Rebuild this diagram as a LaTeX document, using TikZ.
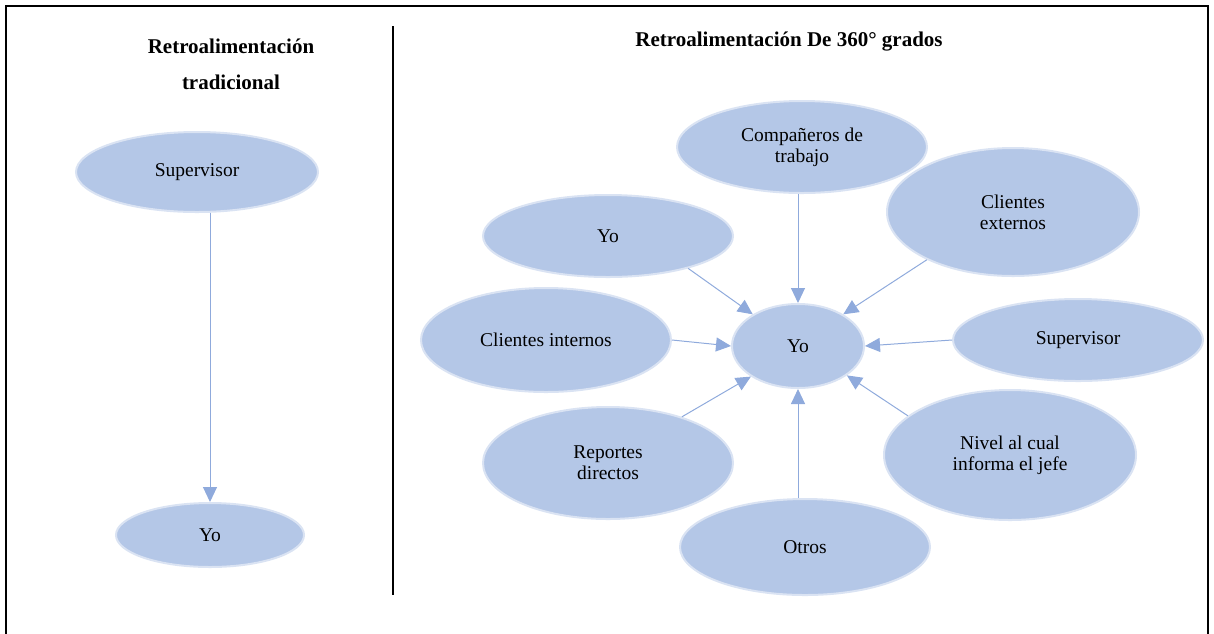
\documentclass[tikz,border=0pt]{standalone}
\usepackage{fontspec}
\setmainfont{Liberation Serif}
\usepackage{tikz}
\usetikzlibrary{shapes.geometric}
\usetikzlibrary{arrows.meta}
\definecolor{ovalfill}{HTML}{B4C7E7}
\definecolor{ovaledge}{HTML}{DAE3F3}
\definecolor{arrowblue}{HTML}{8FAADC}
\tikzset{
	main node/.style={ellipse,draw=ovaledge,line width=2pt,fill=ovalfill,inner sep=0pt,
		align=center,font=\fontsize{19.5}{21}\selectfont},
	title/.style={align=center,font=\fontsize{21}{36}\selectfont\bfseries},
	link/.style={draw=arrowblue,line width=1pt}
}

\begin{document}
\begin{tikzpicture}[x=1pt,y=-1pt,->,>={Triangle[length=15pt,width=14pt]}]
	\useasboundingbox (0,0) rectangle (1214,633);
	\draw[-,line width=2.5pt] (6,6) rectangle (1208,660);
	\draw[-,line width=1.2pt] (393,26) -- (393,595);
	\node [title] (t1) at (231,64) {Retroalimentación\\tradicional};
	\node [title] (t2) at (789,42) {Retroalimentación De 360° grados};
	\node [main node,minimum width=242,minimum height=80] (sup) at (197,172) {Supervisor};
	\node [main node,minimum width=188,minimum height=64] (yo) at (210,535) {Yo};
	\node [main node,minimum width=250,minimum height=92] (comp) at (802,147) {Compañeros de\\trabajo};
	\node [main node,minimum width=252,minimum height=128] (cext) at (1013,212) {Clientes\\externos};
	\node [main node,minimum width=250,minimum height=82] (yo2) at (608,236) {Yo};
	\node [main node,minimum width=250,minimum height=104] (cint) at (546,340) {Clientes internos};
	\node [main node,minimum width=132,minimum height=84] (mid) at (798,346) {Yo};
	\node [main node,minimum width=250,minimum height=82] (sup2) at (1078,340) {Supervisor};
	\node [main node,minimum width=250,minimum height=112] (rep) at (608,463) {Reportes\\directos};
	\node [main node,minimum width=252,minimum height=130] (niv) at (1010,455) {Nivel al cual\\informa el jefe};
	\node [main node,minimum width=250,minimum height=96] (otros) at (805,547) {Otros};
	\draw[link] (sup.south -| yo.north) -- (yo.north);
	\draw[link] (comp.south -| mid.north) -- (mid.north);
	\draw[link] (yo2.-22) -- (mid.145);
	\draw[link] (cext.209) -- (mid.35);
	\draw[link] (cint.east) -- (mid.west);
	\draw[link] (sup2.west) -- (mid.east);
	\draw[link] (rep.32) -- (mid.213);
	\draw[link] (niv.159) -- (mid.-31);
	\draw[link] (otros.north -| mid.south) -- (mid.south);
\end{tikzpicture}
\end{document}
